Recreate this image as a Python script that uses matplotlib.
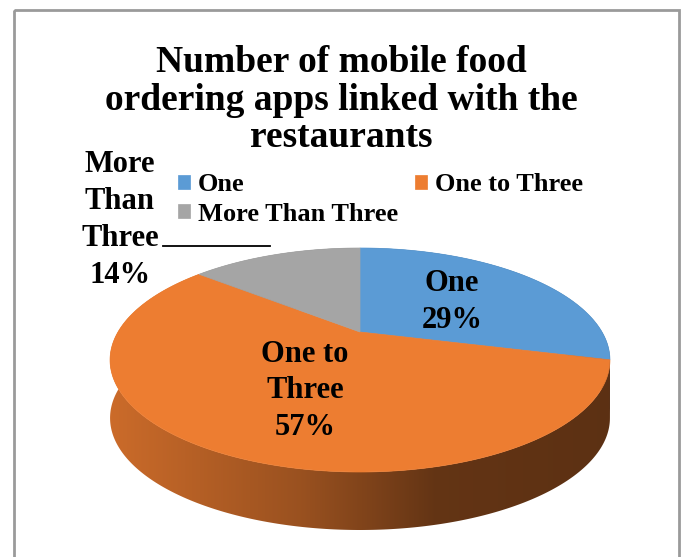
import matplotlib.pyplot as plt
import numpy as np
from matplotlib.patches import Polygon, Rectangle
from matplotlib.colors import to_rgb

# Chart data
categories = ['One', 'One to Three', 'More Than Three']
shares = [29, 57, 14]
colors = ['#5b9bd5', '#ed7d31', '#a5a5a5']
title = 'Number of mobile food\nordering apps linked with the\nrestaurants'

W, H = 685, 557
fig = plt.figure(figsize=(W / 100, H / 100), dpi=100)
ax = fig.add_axes([0, 0, 1, 1])

# 3D pie geometry (pixels): apex, half axes, perspective factor, thickness
cx, cy = 360, 332
A, B, k = 242, 105, 0.25
depth = 58


def project(phi, drop=0.0):
    # phi measured clockwise from 12 o'clock
    u = np.sin(phi)
    v = -np.cos(phi)
    w = 1 - k * v
    return cx + A * u / w, cy + B * v / w + drop


fracs = np.array(shares, dtype=float) / sum(shares)
edges = np.concatenate([[0], np.cumsum(fracs)]) * 2 * np.pi

# pie walls, shaded darker towards the right
xl, xr = cx - 252, cx + 252
shade_x = np.linspace(xl, xr, 400)
shade = np.interp((shade_x - xl) / (xr - xl), [0, 0.38, 0.65, 1.0], [0.86, 0.65, 0.42, 0.39])
for a0, a1, c in zip(edges[:-1], edges[1:], colors):
    t = np.linspace(a0, a1, 300)
    tx, ty = project(t)
    bx, by = project(t, depth)
    pts = np.column_stack([np.concatenate([tx, bx[::-1]]), np.concatenate([ty, by[::-1]])])
    wall = Polygon(pts, closed=True, facecolor='none', edgecolor='none', transform=ax.transData)
    ax.add_patch(wall)
    img = np.array(to_rgb(c))[None, None, :] * shade[None, :, None]
    img = np.repeat(img, 2, axis=0)
    im = ax.imshow(img, extent=(xl, xr, cy + 200, cy - 200), aspect='auto', zorder=1)
    im.set_clip_path(wall)

# pie top faces
tops = []
for a0, a1, c, name in zip(edges[:-1], edges[1:], colors, categories):
    t = np.linspace(a0, a1, 300)
    tx, ty = project(t)
    pts = np.column_stack([np.concatenate([[cx], tx]), np.concatenate([[cy], ty])])
    p = Polygon(pts, closed=True, facecolor=c, edgecolor=c, lw=0.5, zorder=2, label=name)
    ax.add_patch(p)
    tops.append(p)

font = dict(family='Liberation Serif', weight='bold')

ax.text(W / 2 - 1, 100, title, ha='center', va='center', fontsize=27, linespacing=1.11, **font)

# data labels
ax.text(452, 302, f'{categories[0]}\n{shares[0]}%', ha='center', va='center',
        fontsize=22, linespacing=1.36, zorder=3, **font)
ax.text(305, 391, f'One to\nThree\n{shares[1]}%', ha='center', va='center',
        fontsize=22, linespacing=1.36, zorder=3, **font)
ax.text(120, 220, f'More\nThan\nThree\n{shares[2]}%', ha='center', va='center',
        fontsize=22, linespacing=1.36, zorder=3, **font)
ax.plot([163, 270], [246, 246], color='black', lw=1.3, zorder=3)

# legend: One / One to Three on the first row, More Than Three below
ax.legend(handles=[tops[0], tops[2], tops[1]], ncol=2, loc='upper left',
          bbox_to_anchor=(165 / W, 1 - 160 / H), frameon=False, borderpad=0,
          handlelength=0.45, handleheight=0.45, handletextpad=0.3,
          columnspacing=0.65, labelspacing=0.25,
          prop=dict(family='Liberation Serif', weight='bold', size=19))

# chart frame
ax.add_patch(Rectangle((14, 10), 665, 580, facecolor='none', edgecolor='#9a9a9a', lw=2, zorder=5))

ax.set_xlim(0, W)
ax.set_ylim(H, 0)
ax.axis('off')

fig.savefig('out.png', dpi=100)
